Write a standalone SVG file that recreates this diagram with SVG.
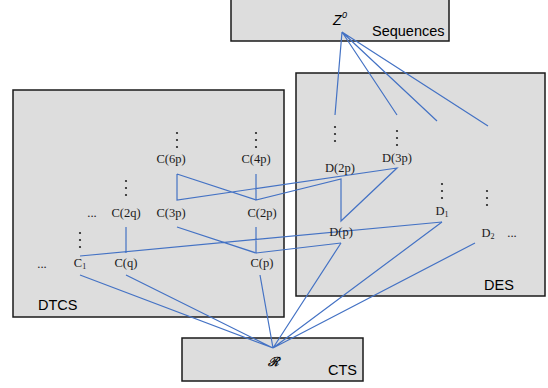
<svg xmlns="http://www.w3.org/2000/svg" width="548" height="388" viewBox="0 0 548 388">
<style>
.box{fill:#dddddd;stroke:#1a1a1a;stroke-width:1.5}
.lbl{font-family:"Liberation Sans",Arial,sans-serif;font-size:14.5px;fill:#000}
.n{font-family:"Liberation Serif","Times New Roman",serif;font-size:12.5px;fill:#1a1a1a;text-anchor:middle}
.sub{font-size:8px}
.e{stroke:#4472c4;stroke-width:1.2;fill:none}
.d{fill:#222}
</style>
<rect width="548" height="388" fill="#fff"/>
<g id="Sequences">
<rect class="box" x="231" y="-2" width="218" height="43"/>
<text x="333" y="25" font-family="Liberation Sans,Arial,sans-serif" font-style="italic" font-size="14">Z</text>
<text x="342" y="18" font-family="Liberation Sans,Arial,sans-serif" font-style="italic" font-size="9">0</text>
<text class="lbl" x="372" y="36">Sequences</text>
</g>
<g id="DTCS">
<rect class="box" x="13" y="90" width="271" height="227"/>
<text class="lbl" x="38" y="310">DTCS</text>
</g>
<g id="DES">
<rect class="box" x="296" y="73" width="249" height="223"/>
<text class="lbl" x="484" y="290">DES</text>
</g>
<g id="CTS">
<rect class="box" x="182" y="338" width="181" height="43"/>
<text x="273" y="366" text-anchor="middle" font-family="DejaVu Serif,serif" font-style="italic" font-size="12.5" stroke="#000" stroke-width="0.4">ℛ</text>
<text class="lbl" x="328" y="375">CTS</text>
</g>
<g id="connectors">
<path class="e" d="M342,32L335,115M342,32L397,115M342,32L437,121M342,32L488,126"/>
<path class="e" d="M177,174V200L397,168L341,221V179L256,200V174M177,174L256,200"/>
<path class="e" d="M177,227L256,253V227M256,253L341,243M126,227V253M80,256L442,222"/>
<path class="e" d="M80,275L273,348M126,275L273,348M260,275L273,348M341,243L273,348M442,222L273,348M475,243L273,348"/>
</g>
<g id="dots">
<g class="d">
<circle cx="177" cy="133" r="1.1"/><circle cx="177" cy="140" r="1.1"/><circle cx="177" cy="147" r="1.1"/>
<circle cx="256" cy="133" r="1.1"/><circle cx="256" cy="140" r="1.1"/><circle cx="256" cy="147" r="1.1"/>
<circle cx="126" cy="181" r="1.1"/><circle cx="126" cy="188" r="1.1"/><circle cx="126" cy="195" r="1.1"/>
<circle cx="80" cy="233" r="1.1"/><circle cx="80" cy="240" r="1.1"/><circle cx="80" cy="247" r="1.1"/>
<circle cx="335" cy="127" r="1.1"/><circle cx="335" cy="134" r="1.1"/><circle cx="335" cy="141" r="1.1"/>
<circle cx="397" cy="131" r="1.1"/><circle cx="397" cy="138" r="1.1"/><circle cx="397" cy="145" r="1.1"/>
<circle cx="442" cy="184" r="1.1"/><circle cx="442" cy="191" r="1.1"/><circle cx="442" cy="198" r="1.1"/>
<circle cx="487" cy="191" r="1.1"/><circle cx="487" cy="198" r="1.1"/><circle cx="487" cy="205" r="1.1"/>
</g>
</g>
<g id="C6p"><text class="n" x="171" y="163">C(6p)</text></g>
<g id="C4p"><text class="n" x="256" y="163">C(4p)</text></g>
<g id="C2q"><text class="n" x="92" y="217">...</text><text class="n" x="126" y="217">C(2q)</text></g>
<g id="C3p"><text class="n" x="171" y="217">C(3p)</text></g>
<g id="C2p"><text class="n" x="262" y="217">C(2p)</text></g>
<g id="C1"><text class="n" x="42" y="268">...</text><text class="n" x="80" y="267">C<tspan class="sub" dy="2">1</tspan></text></g>
<g id="Cq"><text class="n" x="126" y="267">C(q)</text></g>
<g id="Cp"><text class="n" x="262" y="267">C(p)</text></g>
<g id="D2p"><text class="n" x="340" y="172">D(2p)</text></g>
<g id="D3p"><text class="n" x="397" y="162">D(3p)</text></g>
<g id="D1"><text class="n" x="442" y="215">D<tspan class="sub" dy="2">1</tspan></text></g>
<g id="D2"><text class="n" x="488" y="237">D<tspan class="sub" dy="2">2</tspan></text><text class="n" x="512" y="237">...</text></g>
<g id="Dp"><text class="n" x="341" y="236">D(p)</text></g>
</svg>
